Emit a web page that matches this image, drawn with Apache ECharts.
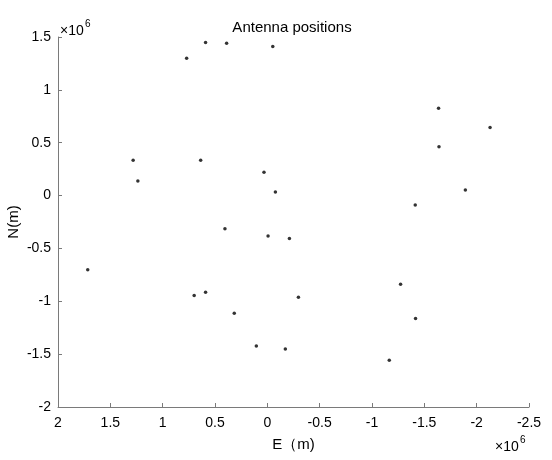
<!DOCTYPE html>
<html>
<head>
<meta charset="utf-8">
<script src="https://cdn.jsdelivr.net/npm/echarts@6/dist/echarts.min.js"></script>
<style>html,body{margin:0;padding:0;background:#fff}#c{width:552px;height:460px}</style>
</head>
<body>
<div id="c"></div>
<script>
// Antenna positions in units of 10^6 m
var eastE6 = [0.771, 0.590, 0.389, -0.052, 1.282, 1.237, 0.637, 0.032, -0.077, 0.405,
  -1.636, -2.128, -1.640, -1.892, -1.413,
  1.716, 0.699, 0.590, 0.316, 0.105, -0.007,
  -0.211, -1.273, -0.297, -1.416, -0.172, -1.165];
var northE6 = [1.298, 1.449, 1.440, 1.409, 0.335, 0.138, 0.335, 0.221, 0.034, -0.314,
  0.827, 0.644, 0.461, 0.053, -0.089,
  -0.702, -0.945, -0.914, -1.113, -1.423, -0.383,
  -0.405, -0.838, -0.961, -1.163, -1.451, -1.558];
var xTicks = [2, 1.5, 1, 0.5, 0, -0.5, -1, -1.5, -2, -2.5];
var yTicks = [1.5, 1, 0.5, 0, -0.5, -1, -1.5, -2];
var titleText = 'Antenna positions';
var xName = 'E（m)';
var yName = 'N(m)';

var pts = eastE6.map(function (e, i) { return [e, northE6[i]]; });
var font = 'Liberation Sans, Arial, Helvetica, sans-serif';
var fmt = function (v) { return String(Math.round(v * 10) / 10); };
var axisGray = '#7a7a7a';

var chart = echarts.init(document.getElementById('c'));
chart.setOption({
  animation: false,
  backgroundColor: '#fff',
  title: {
    text: titleText, left: 287, top: 15, textAlign: 'center',
    textStyle: { fontFamily: font, fontSize: 15, fontWeight: 'normal', color: '#000' }
  },
  grid: { left: 58, right: 23, top: 37, bottom: 53, containLabel: false, outerBoundsMode: 'none' },
  xAxis: {
    type: 'value', inverse: true,
    min: xTicks[xTicks.length - 1], max: xTicks[0], interval: 0.5,
    name: xName, nameLocation: 'middle', nameGap: 30, nameMoveOverlap: false,
    nameTextStyle: { fontFamily: font, fontSize: 15, color: '#000' },
    axisLine: { show: true, onZero: false, lineStyle: { color: axisGray, width: 1 } },
    axisTick: { show: true, inside: true, length: 4, lineStyle: { color: axisGray, width: 1 } },
    axisLabel: { formatter: fmt, fontFamily: font, fontSize: 14, color: '#000', margin: 9 },
    splitLine: { show: false }
  },
  yAxis: {
    type: 'value',
    min: yTicks[yTicks.length - 1], max: yTicks[0], interval: 0.5,
    name: yName, nameLocation: 'middle', nameGap: 37, nameMoveOverlap: false,
    nameTextStyle: { fontFamily: font, fontSize: 15, color: '#000' },
    axisLine: { show: true, onZero: false, lineStyle: { color: axisGray, width: 1 } },
    axisTick: { show: true, inside: true, length: 4, lineStyle: { color: axisGray, width: 1 } },
    axisLabel: { formatter: fmt, fontFamily: font, fontSize: 14, color: '#000', margin: 7 },
    splitLine: { show: false }
  },
  graphic: [
    { type: 'text', left: 60, top: 24, style: { text: '×10', fontFamily: font, fontSize: 14, fill: '#000' } },
    { type: 'text', left: 85, top: 19, style: { text: '6', fontFamily: font, fontSize: 10, fill: '#000' } },
    { type: 'text', left: 495, top: 440, style: { text: '×10', fontFamily: font, fontSize: 14, fill: '#000' } },
    { type: 'text', left: 520, top: 435, style: { text: '6', fontFamily: font, fontSize: 10, fill: '#000' } }
  ],
  series: [{
    type: 'scatter', data: pts, symbol: 'circle', symbolSize: 3.5,
    itemStyle: { color: '#000' }
  }]
});
</script>
</body>
</html>
